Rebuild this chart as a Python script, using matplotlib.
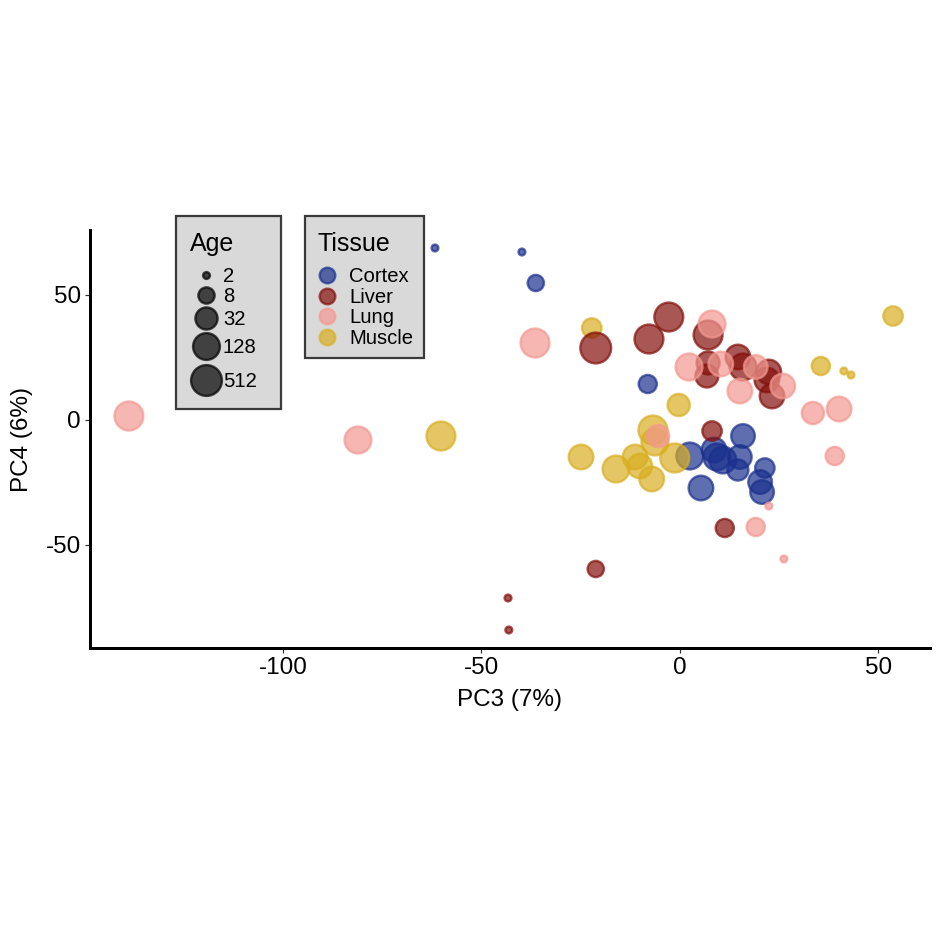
import numpy as np
import matplotlib
matplotlib.use("Agg")
import matplotlib.pyplot as plt
from matplotlib.patches import Rectangle
from matplotlib.lines import Line2D
from matplotlib.transforms import Affine2D

plt.rcParams['font.family'] = ['Liberation Sans', 'DejaVu Sans']

# ---------------- data ----------------
tissues = ["Cortex", "Liver", "Lung", "Muscle"]
tissue_colors = {"Cortex": "#1A308D", "Liver": "#84100B", "Lung": "#F39891", "Muscle": "#D9AE22"}

cortex_x = [-61.7, -39.8, -36.3, -8.1, 2.5, 5.3, 9.3, 10.8, 15.9, 15.1, 14.6, 21.4, 20.2, 20.7, 8.6]
cortex_y = [68.6, 67.0, 54.6, 14.2, -14.6, -27.4, -15.0, -16.2, -6.6, -15.0, -20.2, -19.4, -25.0, -29.0, -12.2]
cortex_age = [2, 2, 8, 12, 128, 64, 128, 128, 48, 48, 24, 16, 48, 48, 64]

liver_x = [-2.8, -7.8, -21.2, 7.1, 7.1, 6.8, 14.6, 15.9, 22.4, 21.9, 23.2, 8.1, 11.3, -21.2, -43.3, -43.1]
liver_y = [41.0, 32.2, 28.6, 33.8, 22.6, 17.4, 25.0, 21.0, 19.0, 15.8, 9.4, -4.6, -43.4, -59.8, -71.4, -84.2]
liver_age = [256, 256, 512, 256, 40, 40, 64, 128, 64, 64, 64, 16, 12, 8, 2, 2]

lung_x = [-138.8, -81.1, -36.5, -5.5, 8.1, 2.3, 10.3, 15.1, 19.1, 25.9, 33.5, 40.1, 39.0, 19.1, 22.4, 26.2]
lung_y = [1.4, -8.2, 30.6, -6.6, 38.2, 21.0, 22.2, 11.4, 21.0, 13.4, 2.6, 4.2, -14.6, -43.0, -34.6, -55.8]
lung_age = [256, 128, 256, 32, 128, 128, 64, 64, 48, 64, 32, 64, 12, 12, 2, 2]

muscle_x = [-60.2, -22.2, -24.9, -16.1, -11.3, -10.1, -7.1, -6.8, -6.3, -1.3, -0.3, 35.5, 41.3, 43.1, 53.7]
muscle_y = [-6.6, 36.6, -15.0, -19.8, -15.0, -18.6, -23.8, -4.2, -9.0, -15.4, 5.8, 21.4, 19.4, 17.8, 41.4]
muscle_age = [256, 16, 64, 128, 64, 64, 64, 256, 128, 256, 32, 12, 2, 2, 16]

age_breaks = [2, 8, 32, 128, 512]
x_ticks = [-100, -50, 0, 50]
y_ticks = [-50, 0, 50]

series = {
    "Cortex": (cortex_x, cortex_y, cortex_age),
    "Liver": (liver_x, liver_y, liver_age),
    "Lung": (lung_x, lung_y, lung_age),
    "Muscle": (muscle_x, muscle_y, muscle_age),
}
draw_order = ["Cortex", "Muscle", "Liver", "Lung"]

# ---------------- styling ----------------
W = 944
DPI = 100
PX = 72.0 / DPI          # points per pixel
ALPHA = 0.7
EDGE_LW = 1.7


def diam_px(age):
    age = np.asarray(age, dtype=float)
    return np.sqrt(64 + 120 * (np.log2(age) - 1)) + 1.2


def marker_pt(age):
    return diam_px(age) * PX - EDGE_LW


fig = plt.figure(figsize=(W / DPI, W / DPI), dpi=DPI)
L, R, T, B = 90, 930, 230, 648
ax = fig.add_axes([L / W, (W - B) / W, (R - L) / W, (B - T) / W])

for t in draw_order:
    xs, ys, ag = series[t]
    ax.scatter(xs, ys, s=marker_pt(ag) ** 2, c=tissue_colors[t], alpha=ALPHA,
               edgecolors=tissue_colors[t], linewidths=EDGE_LW, zorder=3)

ax.set_xlim(-148.6, 63.0)
ax.set_ylim(-91.4, 75.8)
ax.set_xticks(x_ticks)
ax.set_yticks(y_ticks)
ax.set_xticklabels([str(v) for v in x_ticks])
ax.set_yticklabels([str(v) for v in y_ticks])

for s in ["top", "right"]:
    ax.spines[s].set_visible(False)
for s in ["left", "bottom"]:
    ax.spines[s].set_linewidth(3 * PX)
    ax.spines[s].set_color("black")
    ax.spines[s].set_capstyle("projecting")
ax.tick_params(axis="both", length=5 * PX, width=1.2 * PX, color="#333333",
               labelsize=17.5, labelcolor="black", pad=4 * PX)
ax.set_facecolor("white")

ax.set_xlabel("PC3 (7%)", fontsize=17.5)
ax.set_ylabel("PC4 (6%)", fontsize=17.5)
ax.xaxis.set_label_coords(0.5, (B - 700) / (B - T))
ax.xaxis.label.set_va("center")
ax.yaxis.set_label_coords((22 - L) / (R - L), 0.5)
ax.yaxis.label.set_va("center")

# ---------------- legends (pixel coordinates, origin top-left) ----------------
ptrans = Affine2D().scale(1.0 / W, -1.0 / W).translate(0, 1) + fig.transFigure


def legend_box(x0, y0, x1, y1):
    fig.add_artist(Rectangle((x0, y0), x1 - x0, y1 - y0, transform=ptrans,
                             facecolor="#D9D9D9", edgecolor="#3A3A3A",
                             linewidth=1.6, zorder=10))


def key(x, y, d_px, color):
    fig.add_artist(Line2D([x], [y], transform=ptrans, marker="o", linestyle="none",
                          markersize=d_px * PX - EDGE_LW, markerfacecolor=color,
                          markeredgecolor=color, markeredgewidth=EDGE_LW,
                          alpha=ALPHA, zorder=11))


# Age legend
legend_box(176, 216, 281, 409)
fig.text(190, 244, "Age", transform=ptrans, fontsize=18, va="center", ha="left", zorder=12)
age_key_y = [275, 295, 318, 346, 380]
for a, yy in zip(age_breaks, age_key_y):
    key(206, yy, float(diam_px(a)), "black")
    fig.text(223, yy + 1.5, str(a), transform=ptrans, fontsize=14.6, va="center", ha="left", zorder=12)

# Tissue legend
legend_box(305, 216, 424, 358)
fig.text(318, 244, "Tissue", transform=ptrans, fontsize=18, va="center", ha="left", zorder=12)
tissue_key_y = [275, 296, 316, 337]
for t, yy in zip(tissues, tissue_key_y):
    key(327, yy, 18, tissue_colors[t])
    fig.text(349, yy + 1.5, t, transform=ptrans, fontsize=14.6, va="center", ha="left", zorder=12)

fig.savefig("out.png", dpi=DPI, facecolor="white")
